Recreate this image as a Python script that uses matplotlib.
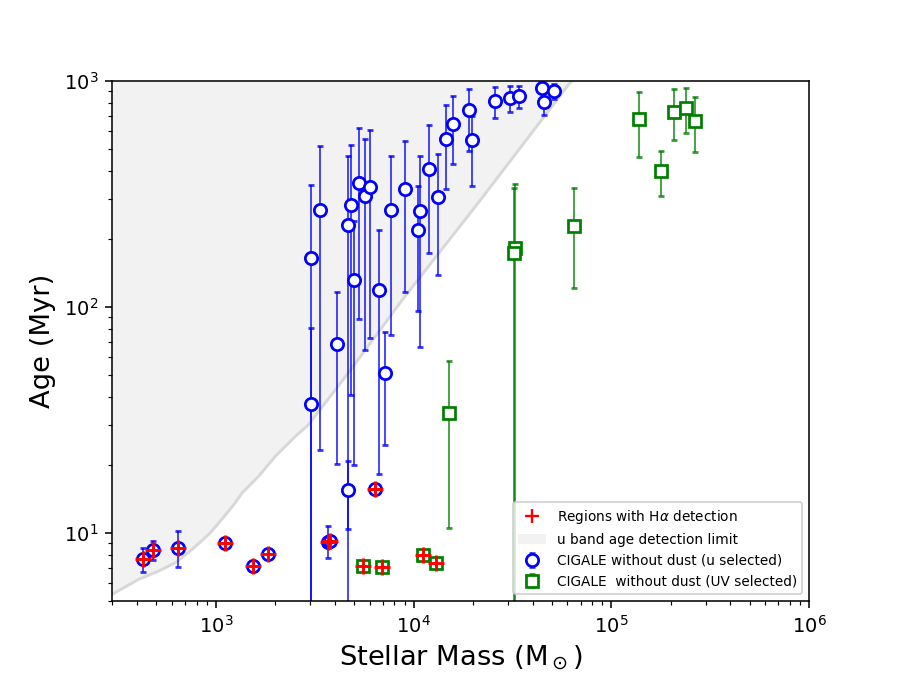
import numpy as np
import matplotlib
matplotlib.use('Agg')
import matplotlib.pyplot as plt
from matplotlib.lines import Line2D
from matplotlib.patches import Patch

# u band age detection limit (stellar mass, age in Myr)
limit_mass = [300, 409, 516, 627, 760, 922, 1076, 1257, 1357, 1648, 2000,
              2523, 2944, 4800, 8740, 21700, 61660, 63500]
limit_age = [5.35, 6.23, 6.78, 7.38, 8.45, 9.84, 11.5, 13.6, 15.0, 17.8, 21.8,
             26.7, 30.1, 52.6, 107, 296, 980, 1000]

# CIGALE without dust, u selected: mass, age, lower / upper age bound
u_mass = [427, 480, 645, 1110, 1550, 1845, 3700, 3770, 4645, 6350,
          3013, 3013, 3375, 4645, 4830, 5020, 5285, 5690, 6030, 4110,
          6715, 7690, 9080, 10720, 10520, 11900, 13280, 14630, 15810, 19010,
          19700, 25820, 30750, 34130, 44570, 45630, 51240, 7180]
u_age = [7.63, 8.36, 8.60, 8.98, 7.09, 8.09, 9.14, 9.2, 15.5, 15.7,
         164, 37.2, 269, 230, 282, 131, 354, 310, 340, 68.5,
         119, 269, 331, 265, 220, 408, 307, 556, 646, 743,
         549, 813, 841, 858, 934, 807, 904, 51.2]
u_lo = [6.67, 7.55, 7.02, 8.98, 7.09, 8.09, 7.71, 8.9, 10.35, 15.2,
        0.5, 0.5, 23.3, 0.5, 40.8, 20.0, 88, 64.4, 72.5, 20.2,
        18.2, 75, 116, 66.6, 95.8, 173, 138, 334, 431, 491,
        344, 683, 728, 762, 833, 706, 835, 24.5]
u_hi = [8.56, 9.19, 10.2, 8.98, 7.09, 8.09, 10.7, 9.5, 20.7, 16.2,
        347, 80.5, 513, 467, 522, 241, 619, 556, 604, 116,
        220, 464, 545, 464, 344, 641, 473, 782, 861, 922,
        702, 941, 950, 950, 1000, 922, 966, 77.6]
u_halpha = [1, 1, 1, 1, 1, 1, 1, 1, 0, 1,
            0, 0, 0, 0, 0, 0, 0, 0, 0, 0,
            0, 0, 0, 0, 0, 0, 0, 0, 0, 0,
            0, 0, 0, 0, 0, 0, 0, 0]

# CIGALE without dust, UV selected
uv_mass = [32590, 32060, 15020, 64570, 138000, 178100, 208000, 239300, 264200,
           5535, 6950, 11220, 13020]
uv_age = [183, 173, 34.0, 229, 678, 400, 732, 760, 667, 7.13, 7.06, 7.97, 7.31]
uv_lo = [0.5, 0.5, 10.45, 121, 459, 309, 547, 588, 483, 7.0, 6.95, 7.65, 7.0]
uv_hi = [350, 335, 57.6, 337, 894, 491, 919, 932, 850, 7.26, 7.17, 8.3, 7.6]
uv_halpha = [0, 0, 0, 0, 0, 0, 0, 0, 0, 1, 1, 1, 1]

u_mass, u_age = np.array(u_mass), np.array(u_age)
uv_mass, uv_age = np.array(uv_mass), np.array(uv_age)
u_err = [u_age - np.array(u_lo), np.array(u_hi) - u_age]
uv_err = [uv_age - np.array(uv_lo), np.array(uv_hi) - uv_age]
u_ha = np.array(u_halpha, dtype=bool)
uv_ha = np.array(uv_halpha, dtype=bool)

fig, ax = plt.subplots(figsize=(6.393, 4.8), dpi=140.625)

# shaded region above the detection limit
ax.fill_between(limit_mass, limit_age, 1000, color='#f2f2f2', lw=0, zorder=0)
ax.plot(limit_mass, limit_age, color='#d8d8d8', lw=1.5, zorder=0.5)

eb_u = ax.errorbar(u_mass, u_age, yerr=u_err, fmt='o', ms=6.3, mfc='white',
                   mec='blue', mew=1.4, ecolor=(0, 0, 1, 0.8), elinewidth=0.9,
                   capsize=1.5, capthick=1.5, zorder=2)
eb_uv = ax.errorbar(uv_mass, uv_age, yerr=uv_err, fmt='s', ms=6.3, mfc='white',
                    mec='green', mew=1.4, ecolor=(0, 0.5, 0, 0.8),
                    elinewidth=0.9, capsize=1.5, capthick=1.5, zorder=2)

# regions with H-alpha detection
ax.plot(u_mass[u_ha], u_age[u_ha], '+', color='red', ms=8, mew=1.5, zorder=3)
ax.plot(uv_mass[uv_ha], uv_age[uv_ha], '+', color='red', ms=8, mew=1.5, zorder=3)

ax.set_xscale('log')
ax.set_yscale('log')
ax.set_xlim(300, 1e6)
ax.set_ylim(5, 1000)
ax.set_xlabel(r'Stellar Mass (M$_\odot$)', fontsize=14)
ax.set_ylabel('Age (Myr)', fontsize=14)

handles = [Line2D([], [], ls='none', marker='+', color='red', ms=7, mew=1.2),
           Patch(facecolor='#f2f2f2', edgecolor='none'),
           eb_u, eb_uv]
labels = [r'Regions with H$\alpha$ detection', 'u band age detection limit',
          'CIGALE without dust (u selected)', 'CIGALE  without dust (UV selected)']
ax.legend(handles, labels, loc='lower right', fontsize=7)

plt.savefig('out.png', dpi=140.625)
plt.close()
